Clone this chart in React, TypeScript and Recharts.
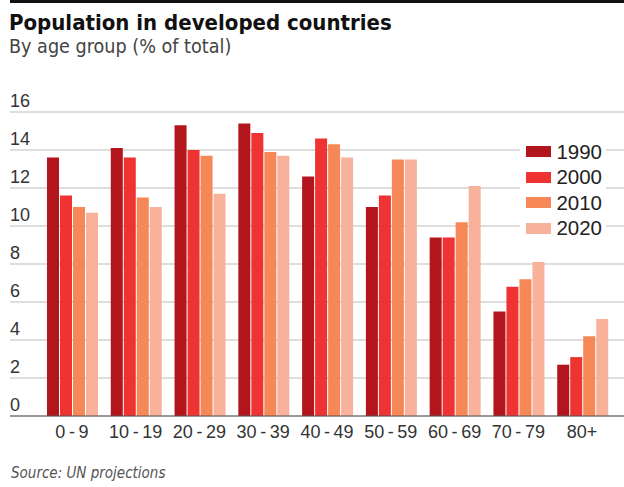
import { BarChart, Bar, XAxis, YAxis, CartesianGrid, Legend } from "recharts"

// share of total population by age group, developed countries
const ageGroups = ["0-9", "10-19", "20-29", "30-39", "40-49", "50-59", "60-69", "70-79", "80+"]
const pop1990 = [13.6, 14.1, 15.3, 15.4, 12.6, 11.0, 9.4, 5.5, 2.7]
const pop2000 = [11.6, 13.6, 14.0, 14.9, 14.6, 11.6, 9.4, 6.8, 3.1]
const pop2010 = [11.0, 11.5, 13.7, 13.9, 14.3, 13.5, 10.2, 7.2, 4.2]
const pop2020 = [10.7, 11.0, 11.7, 13.7, 13.6, 13.5, 12.1, 8.1, 5.1]
const yTicks = [0, 2, 4, 6, 8, 10, 12, 14, 16]

const series = [
  { key: "y1990", name: "1990", values: pop1990, color: "#b3151c" },
  { key: "y2000", name: "2000", values: pop2000, color: "#ee3332" },
  { key: "y2010", name: "2010", values: pop2010, color: "#f58856" },
  { key: "y2020", name: "2020", values: pop2020, color: "#f8b29c" },
]

const data = ageGroups.map((group, i) => {
  const row: Record<string, string | number> = { group }
  series.forEach((s) => {
    row[s.key] = s.values[i]
  })
  return row
})

const W = 624
const H = 487
const LEFT = 10
const PLOT_BOTTOM = 416
const sans = "'Liberation Sans', Arial, sans-serif"
const narrow = "'Liberation Sans Narrow', 'DejaVu Sans Condensed', sans-serif"

const YTick = (props: any) => (
  <text x={LEFT} y={props.y - 5} fill="#333" fontSize={18} fontFamily={sans} textAnchor="start">
    {props.payload.value}
  </text>
)

const XTick = (props: any) => (
  <text x={props.x} y={PLOT_BOTTOM + 22} fill="#333" fontSize={18} fontFamily={sans} textAnchor="middle">
    {String(props.payload.value).replace("-", "\u2009-\u2009")}
  </text>
)

const LegendBox = (props: any) => (
  <div style={{ background: "#fff", padding: "0 4px 0 6px" }}>
    {(props.payload || []).map((item: any) => (
      <div key={item.value} style={{ display: "flex", alignItems: "center", height: 25.5 }}>
        <span style={{ display: "inline-block", width: 26, height: 11, background: item.color, marginRight: 5 }} />
        <span style={{ fontFamily: sans, fontSize: 20.5, color: "#222", lineHeight: 1 }}>{item.value}</span>
      </div>
    ))}
  </div>
)

export default function App() {
  return (
    <div style={{ position: "absolute", left: 0, top: 0, width: W, height: H, background: "#fff", overflow: "hidden" }}>
      <div style={{ position: "absolute", left: 10, top: 0, right: 0, height: 3, background: "#111" }} />
      <div
        style={{
          position: "absolute", left: 9, top: 12, fontFamily: narrow, fontWeight: 700,
          fontSize: 22, lineHeight: 1, color: "#111", whiteSpace: "nowrap",
        }}
      >
        Population in developed countries
      </div>
      <div
        style={{
          position: "absolute", left: 9, top: 37, fontFamily: narrow, fontSize: 19.6,
          lineHeight: 1, color: "#444", whiteSpace: "nowrap",
        }}
      >
        By age group (% of total)
      </div>
      <div style={{ position: "absolute", left: 0, top: 0 }}>
        <BarChart
          width={W}
          height={H}
          data={data}
          margin={{ top: 112, right: 0, bottom: 41, left: LEFT - 1 }}
          barCategoryGap={7}
          barGap={1}
        >
          <CartesianGrid vertical={false} stroke="#bdbdbd" />
          <XAxis
            dataKey="group"
            height={30}
            padding={{ left: 30, right: 10 }}
            tickLine={false}
            axisLine={{ stroke: "#555" }}
            tick={<XTick />}
            interval={0}
          />
          <YAxis
            width={1}
            domain={[0, 16]}
            ticks={yTicks}
            interval={0}
            axisLine={false}
            tickLine={false}
            tick={<YTick />}
          />
          <Legend
            layout="vertical"
            align="center"
            verticalAlign="middle"
            content={<LegendBox />}
            wrapperStyle={{ left: 520, top: 139, width: 86 }}
          />
          {series.map((s) => (
            <Bar key={s.key} dataKey={s.key} name={s.name} fill={s.color} isAnimationActive={false} />
          ))}
        </BarChart>
      </div>
      <div
        style={{
          position: "absolute", left: 11, top: 466, fontFamily: narrow, fontStyle: "italic",
          fontSize: 15, lineHeight: 1, color: "#555", whiteSpace: "nowrap",
        }}
      >
        Source: UN projections
      </div>
    </div>
  )
}
